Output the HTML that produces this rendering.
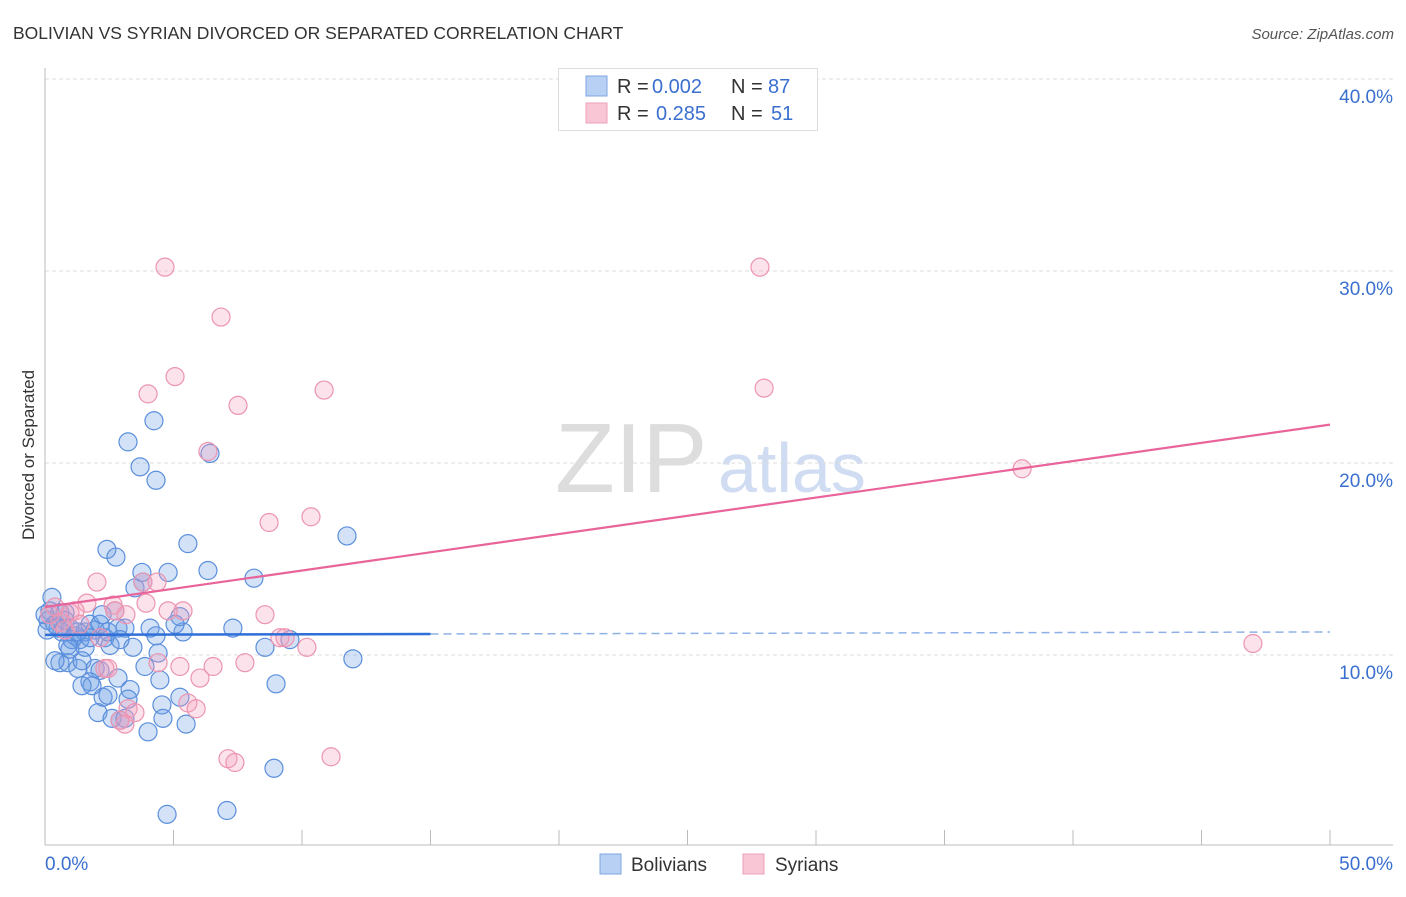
<!DOCTYPE html>
<html><head><meta charset="utf-8"><style>
body{margin:0;background:#fff;font-family:"Liberation Sans",sans-serif;}
svg text{font-family:"Liberation Sans",sans-serif;}
</style></head><body>
<svg width="1406" height="892" viewBox="0 0 1406 892">
<text x="13" y="39" font-size="17.5" fill="#333">BOLIVIAN VS SYRIAN DIVORCED OR SEPARATED CORRELATION CHART</text>
<text x="1394" y="39" font-size="15" fill="#555" font-style="italic" text-anchor="end">Source: ZipAtlas.com</text>
<text x="0" y="0" transform="translate(34,455) rotate(-90)" font-size="17" fill="#333" text-anchor="middle">Divorced or Separated</text>
<g>
<text x="555" y="492" font-size="98" fill="#ddd" font-family="Liberation Serif,serif">ZIP</text>
<text x="718" y="492" font-size="70" fill="#cfdcf2">atlas</text>
</g>
<g id="grid"></g><g id="axes"></g><g id="pts"></g><g id="lines"></g>
<g>
<rect x="558.5" y="68.5" width="259" height="62" fill="#fff" stroke="#ddd"/>
<rect x="586" y="76" width="21" height="20" fill="#b8d0f3" stroke="#7fa6e3"/>
<rect x="586" y="103" width="21" height="20" fill="#f9c6d5" stroke="#eda0b8"/>
<text y="93" font-size="20" fill="#333"><tspan x="617">R = </tspan><tspan fill="#3a6fd0" x="652">0.002</tspan><tspan x="731">N = </tspan><tspan fill="#3a6fd0" x="768">87</tspan></text>
<text y="120" font-size="20" fill="#333"><tspan x="617">R = </tspan><tspan fill="#3a6fd0" x="656">0.285</tspan><tspan x="731">N = </tspan><tspan fill="#3a6fd0" x="771">51</tspan></text>
</g>
<g>
<rect x="600" y="854" width="21" height="20" fill="#b8d0f3" stroke="#7fa6e3"/>
<text x="631" y="871" font-size="19" fill="#333">Bolivians</text>
<rect x="743" y="854" width="21" height="20" fill="#f9c6d5" stroke="#eda0b8"/>
<text x="775" y="871" font-size="19" fill="#333">Syrians</text>
</g>
</svg>
<script>
const yTicks=[10,20,30,40];
const xTickLabels=["0.0%","50.0%"];
const blueX=[0.27,0.19,0.12,0.39,0.58,0.78,0.66,0.97,1.17,1.36,0.89,1.05,1.56,1.75,1.95,2.14,2.33,2.53,2.72,2.84,3.11,0.58,0.89,1.28,1.44,1.95,2.14,1.75,1.83,2.06,2.26,2.45,2.61,2.92,3.11,2.84,3.31,3.42,4.01,4.55,4.59,5.25,5.49,4.75,7.08,8.91,8.99,8.56,9.53,11.98,7.31,5.37,5.25,4.09,4.32,4.40,3.89,4.79,3.77,3.50,2.41,2.76,5.56,6.34,8.13,11.75,3.23,4.24,3.70,4.32,6.42,3.81,2.22,0.39,0.97,1.56,2.45,2.92,5.06,0.78,0.51,1.28,1.75,0,0.08,3.23,1.44,4.47];
const blueY=[13.0,12.3,11.8,11.6,12.2,12.2,11.2,11.4,11.0,10.8,10.5,10.8,11.2,11.6,11.3,11.6,10.9,10.5,12.3,11.4,11.4,9.6,9.6,9.3,9.7,9.3,9.2,8.6,8.4,7.0,7.8,7.9,6.7,6.6,6.7,8.8,8.2,10.4,6.0,7.4,6.7,7.8,6.4,1.7,1.9,4.1,8.5,10.4,10.8,9.8,11.4,11.2,12.0,11.4,11.0,10.1,9.4,14.3,14.3,13.5,15.5,15.1,15.8,14.4,14.0,16.2,21.1,22.2,19.8,19.1,20.5,13.8,12.1,9.7,10.3,10.4,11.2,10.8,11.6,11.8,11.4,11.2,10.9,12.1,11.3,7.7,8.4,8.7];
const pinkX=[4.67,27.82,6.85,5.06,4.01,7.51,10.86,27.98,6.34,38.02,8.72,10.35,2.02,3.81,4.36,1.63,2.65,3.93,5.37,4.79,3.15,1.17,8.56,0.39,0.19,0.58,2.14,9.14,9.34,10.19,4.40,5.25,6.54,7.78,6.03,2.33,3.23,3.50,2.92,5.56,5.88,7.12,7.39,11.13,47.0,2.45,0.97,3.11,0.78,1.36,2.72];
const pinkY=[30.2,30.2,27.6,24.5,23.6,23.0,23.8,23.9,20.6,19.7,16.9,17.2,13.8,13.8,13.8,12.7,12.6,12.7,12.3,12.3,12.1,12.3,12.1,12.5,12.1,11.7,10.9,10.9,10.9,10.4,9.6,9.4,9.4,9.6,8.8,9.3,7.2,7.0,6.6,7.5,7.2,4.6,4.4,4.7,10.6,9.3,12.2,6.4,11.3,11.6,12.3];
const blueTrend=[11.05,11.2];
const pinkTrend=[12.5,22.0];
const NS="http://www.w3.org/2000/svg";
const sx=v=>45+v*25.7, sy=v=>847-v*19.2;
function mk(t,a,p){const e=document.createElementNS(NS,t);for(const k in a)e.setAttribute(k,a[k]);p.appendChild(e);return e;}
const grid=document.getElementById('grid'),axes=document.getElementById('axes'),pts=document.getElementById('pts'),lines=document.getElementById('lines');
yTicks.forEach(t=>{
const l=mk('line',{x1:45,x2:1393,y1:sy(t),y2:sy(t),stroke:'#ddd','stroke-dasharray':'4,3'},grid);


const tx=mk('text',{x:1393,y:sy(t)+24,'font-size':19,fill:'#3a6fd0','text-anchor':'end'},axes);
tx.textContent=t.toFixed(1)+'%';


});
const ya=mk('line',{x1:45,x2:45,y1:68,y2:845,stroke:'#bbb'},axes);


const xa=mk('line',{x1:45,x2:1393,y1:845,y2:845,stroke:'#bbb'},axes);


for(let i=0;i<=10;i++){const tk=mk('line',{x1:sx(i*5),x2:sx(i*5),y1:830,y2:845,stroke:'#bbb'},axes);

}
const xl0=mk('text',{x:45,y:870,'font-size':19,fill:'#3a6fd0'},axes);xl0.textContent=xTickLabels[0];


const xl1=mk('text',{x:1393,y:870,'font-size':19,fill:'#3a6fd0','text-anchor':'end'},axes);xl1.textContent=xTickLabels[1];


blueX.forEach((x,i)=>{const c=mk('circle',{cx:sx(x),cy:sy(blueY[i]),r:9,fill:'rgba(110,160,230,0.3)',stroke:'#5b8fdc','stroke-width':1.2},pts);

});
pinkX.forEach((x,i)=>{const c=mk('circle',{cx:sx(x),cy:sy(pinkY[i]),r:9,fill:'rgba(245,160,190,0.3)',stroke:'#ec94b0','stroke-width':1.2},pts);

});
const bs=mk('line',{x1:sx(0),x2:sx(15),y1:sy(blueTrend[0]),y2:sy(blueTrend[0]+(blueTrend[1]-blueTrend[0])*0.3),stroke:'#2f6fd8','stroke-width':2.5},lines);


const bd=mk('line',{x1:sx(15),x2:sx(50),y1:sy(blueTrend[0]+(blueTrend[1]-blueTrend[0])*0.3),y2:sy(blueTrend[1]),stroke:'#8fb0e6','stroke-width':1.5,'stroke-dasharray':'8,5'},lines);


const pl=mk('line',{x1:sx(0),x2:sx(50),y1:sy(pinkTrend[0]),y2:sy(pinkTrend[1]),stroke:'#e8649a','stroke-width':2.2},lines);


</script>
</body></html>
